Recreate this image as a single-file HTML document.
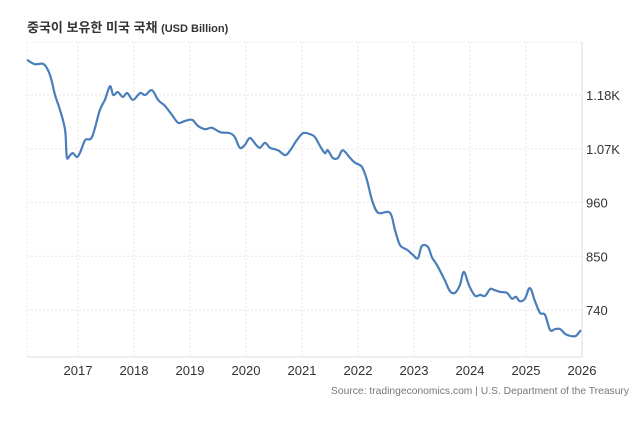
<!DOCTYPE html>
<html><head><meta charset="utf-8"><style>
body{margin:0;background:#fff;font-family:"Liberation Sans","Noto Sans CJK KR",sans-serif;}
svg text{font-family:"Liberation Sans","Noto Sans CJK KR",sans-serif;}
</style></head><body>
<svg id="chart" width="640" height="437" xmlns="http://www.w3.org/2000/svg">
<text x="27" y="32" font-size="13" font-weight="bold" fill="#333">중국이 보유한 미국 국채 <tspan font-size="11">(USD Billion)</tspan></text>
<g id="grid"></g><g id="axes"></g>
<path id="line" fill="none" stroke="#4a7ebb" stroke-width="2.2" stroke-linejoin="round"/>
<text x="629" y="394" font-size="10.3" fill="#777" text-anchor="end">Source: tradingeconomics.com | U.S. Department of the Treasury</text>
</svg>
<script>
const dates=[2016.09,2016.23,2016.39,2016.50,2016.59,2016.68,2016.77,2016.80,2016.86,2016.91,2016.98,2017.04,2017.13,2017.25,2017.39,2017.48,2017.57,2017.63,2017.71,2017.80,2017.88,2017.98,2018.11,2018.20,2018.32,2018.43,2018.55,2018.68,2018.79,2018.91,2019.04,2019.14,2019.27,2019.39,2019.54,2019.71,2019.80,2019.89,2019.98,2020.07,2020.18,2020.25,2020.34,2020.43,2020.57,2020.70,2020.79,2020.91,2021.02,2021.14,2021.23,2021.32,2021.41,2021.46,2021.55,2021.64,2021.73,2021.86,2021.95,2022.07,2022.16,2022.25,2022.36,2022.57,2022.66,2022.75,2022.88,2022.98,2023.07,2023.14,2023.25,2023.32,2023.41,2023.55,2023.64,2023.73,2023.82,2023.89,2023.98,2024.09,2024.18,2024.27,2024.36,2024.43,2024.54,2024.66,2024.75,2024.82,2024.89,2024.98,2025.07,2025.16,2025.25,2025.34,2025.43,2025.52,2025.61,2025.70,2025.79,2025.89,2025.98];
const values=[1252,1243,1243,1221,1180,1149,1108,1053,1057,1061,1053,1063,1088,1094,1149,1170,1198,1180,1186,1176,1184,1170,1184,1180,1190,1170,1158,1139,1123,1127,1129,1117,1110,1113,1104,1102,1094,1072,1078,1092,1078,1072,1082,1072,1067,1057,1067,1088,1102,1100,1094,1076,1061,1067,1051,1051,1067,1051,1041,1033,1006,965,939,939,904,873,863,853,846,871,869,848,832,801,779,775,791,818,791,769,771,769,783,781,777,775,763,767,758,763,785,758,734,730,699,701,701,691,687,687,699];
const yTicks=[740,850,960,1070,1180];
const yLabels=["740","850","960","1.07K","1.18K"];
const xTicks=[2017,2018,2019,2020,2021,2022,2023,2024,2025,2026];
const X=d=>78+(d-2017)*56;
const Y=v=>310-(v-740)*0.4886;
const R=582;
const NS="http://www.w3.org/2000/svg";
const grid=document.getElementById('grid'),axes=document.getElementById('axes');
function mk(tag,attrs,parent,txt){const e=document.createElementNS(NS,tag);for(const k in attrs)e.setAttribute(k,attrs[k]);if(txt!==undefined)e.textContent=txt;parent.appendChild(e);return e;}
mk('line',{x1:27,x2:R,y1:42,y2:42,stroke:'#eee','stroke-dasharray':'2,2'},grid);
yTicks.forEach((v,i)=>{
 const l=mk('line',{x1:27,x2:R,y1:Y(v),y2:Y(v),stroke:'#e6e6e6','stroke-dasharray':'2,2'},grid);
 
 
 const t=mk('text',{x:586,y:Y(v)+5,'font-size':13,fill:'#333'},axes,yLabels[i]);
 
 
});
xTicks.forEach(d=>{
 const l=mk('line',{x1:X(d),x2:X(d),y1:42,y2:357,stroke:'#e6e6e6','stroke-dasharray':'2,2'},grid);
 
 
 const t=mk('text',{x:X(d),y:375,'font-size':13,fill:'#333','text-anchor':'middle'},axes,String(d));
 
 
});
mk('line',{x1:27,x2:27,y1:42,y2:357,stroke:'#eee','stroke-dasharray':'2,2'},grid);
const ax=mk('line',{x1:27,x2:R,y1:357,y2:357,stroke:'#ddd'},axes);


const ay=mk('line',{x1:R,x2:R,y1:42,y2:357,stroke:'#ddd'},axes);


const pts=dates.map((d,i)=>[X(d),Y(values[i])]);
let p='M'+pts[0][0]+','+pts[0][1];
for(let i=0;i<pts.length-1;i++){
 const p0=pts[Math.max(0,i-1)],p1=pts[i],p2=pts[i+1],p3=pts[Math.min(pts.length-1,i+2)];
 const c1=[p1[0]+(p2[0]-p0[0])/6,p1[1]+(p2[1]-p0[1])/6],c2=[p2[0]-(p3[0]-p1[0])/6,p2[1]-(p3[1]-p1[1])/6];
 p+=`C${c1[0]},${c1[1]} ${c2[0]},${c2[1]} ${p2[0]},${p2[1]}`;
}
document.getElementById('line').setAttribute('d',p);
</script>
</body></html>
